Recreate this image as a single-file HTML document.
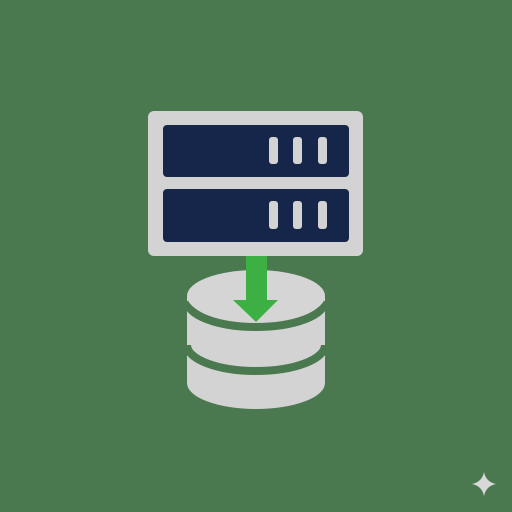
<!DOCTYPE html>
<html><head><style>html,body{margin:0;padding:0;background:#4a7a50;}svg{display:block}</style></head>
<body>
<svg width="512" height="512" viewBox="0 0 512 512" xmlns="http://www.w3.org/2000/svg">
<rect width="512" height="512" fill="#4a7950"/>
<!-- cylinder -->
<rect x="187" y="296" width="138" height="87" fill="#d3d3d3"/>
<ellipse cx="256" cy="383" rx="69" ry="26" fill="#d3d3d3"/>
<path d="M187 301 A69 26 0 0 0 325 301" fill="none" stroke="#4a7950" stroke-width="8"/>
<path d="M187 345 A69 26 0 0 0 325 345" fill="none" stroke="#4a7950" stroke-width="8"/>
<ellipse cx="256" cy="296" rx="69" ry="26" fill="#d5d5d5"/>
<!-- server -->
<rect x="148" y="111" width="215" height="145" rx="6" fill="#d3d3d3"/>
<rect x="163" y="125" width="186" height="52" rx="4" fill="#15264a"/>
<rect x="163" y="189" width="186" height="53" rx="4" fill="#15264a"/>
<g fill="#d3d3d3">
<rect x="269" y="137" width="9" height="27" rx="3"/>
<rect x="293" y="137" width="9" height="27" rx="3"/>
<rect x="318" y="137" width="9" height="27" rx="3"/>
<rect x="269" y="201" width="9" height="28" rx="3"/>
<rect x="293" y="201" width="9" height="28" rx="3"/>
<rect x="318" y="201" width="9" height="28" rx="3"/>
</g>
<!-- arrow -->
<rect x="246" y="256" width="21" height="45" fill="#3cb043"/>
<polygon points="233,300 278,300 256,322" fill="#3cb043"/>
<!-- sparkle -->
<path d="M484 472 Q486 482 496 484 Q486 486 484 496 Q482 486 472 484 Q482 482 484 472Z" fill="#d8d8d8"/>
</svg>
</body></html>
